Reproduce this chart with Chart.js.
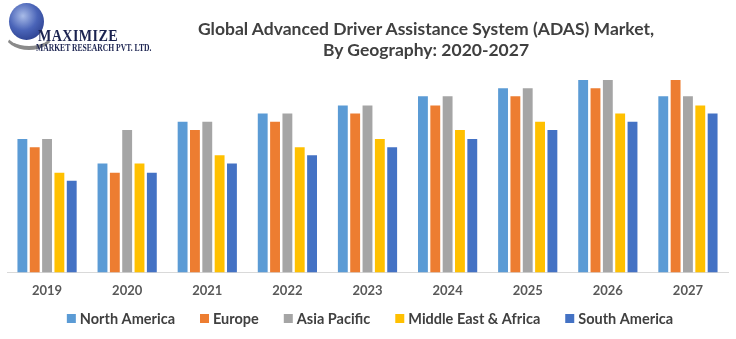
<!DOCTYPE html>
<html>
<head>
<meta charset="utf-8">
<script src="https://cdn.jsdelivr.net/npm/chart.js@4.4.1/dist/chart.umd.min.js"></script>
<style>
  html, body { margin: 0; padding: 0; background: #fff; }
  #wrap { position: relative; width: 736px; height: 339px; overflow: hidden; }
  #chart { position: absolute; left: 0; top: 0; }
  .title {
    position: absolute; left: 0; width: 852px; text-align: center;
    font: bold 17.5px Lato, sans-serif; color: #404040; white-space: nowrap;
  }
  .globe {
    position: absolute; left: 9px; top: 3px; width: 35px; height: 37px; border-radius: 50%;
    background: radial-gradient(circle at 40% 35%, #a9bce8 0%, #4a64b8 45%, #1e2f7a 100%);
  }
  .swoosh {
    position: absolute; left: 4px; top: 16px; width: 46px; height: 30px; border-radius: 50%;
    border-bottom: 4px solid #8a8a8a; border-left: 2px solid transparent; border-right: 2px solid transparent;
  }
  .brand {
    position: absolute; left: 38px; top: 26px; font: bold 17px "Liberation Serif", serif;
    color: #1b2350; transform: scaleX(0.83); transform-origin: left; letter-spacing: 0.5px;
  }
  .brand-sub {
    position: absolute; left: 36px; top: 42px; font: bold 10px "Liberation Serif", serif;
    color: #1b2350; transform: scaleX(0.76); transform-origin: left; white-space: nowrap;
  }
</style>
</head>
<body>
<div id="wrap">
  <canvas id="chart" width="736" height="339"></canvas>
  <div class="globe"></div>
  <div class="swoosh"></div>
  <div class="brand">MAXIMIZE</div>
  <div class="brand-sub">MARKET RESEARCH PVT. LTD.</div>
  <div class="title" style="top:18px">Global Advanced Driver Assistance System (ADAS) Market,</div>
  <div class="title" style="top:39px">By Geography: 2020-2027</div>
</div>
<script>
const years = ['2019', '2020', '2021', '2022', '2023', '2024', '2025', '2026', '2027'];

const northAmerica     = [13.1, 10.7, 14.8, 15.6, 16.4, 17.3, 18.1, 18.9, 17.3];
const europe           = [12.3,  9.8, 14.0, 14.8, 15.6, 16.4, 17.3, 18.1, 18.9];
const asiaPacific      = [13.1, 14.0, 14.8, 15.6, 16.4, 17.3, 18.1, 18.9, 17.3];
const middleEastAfrica = [ 9.8, 10.7, 11.5, 12.3, 13.1, 14.0, 14.8, 15.6, 16.4];
const southAmerica     = [ 9.0,  9.8, 10.7, 11.5, 12.3, 13.1, 14.0, 14.8, 15.6];

const series = [
  { label: 'North America', data: northAmerica, color: '#5B9BD5' },
  { label: 'Europe', data: europe, color: '#ED7D31' },
  { label: 'Asia Pacific', data: asiaPacific, color: '#A5A5A5' },
  { label: 'Middle East & Africa', data: middleEastAfrica, color: '#FFC000' },
  { label: 'South America', data: southAmerica, color: '#4472C4' }
];

// Legend row drawn by hand so the gap above it can be kept tight
const bottomLegend = {
  id: 'bottomLegend',
  afterDraw(chart) {
    const c = chart.ctx;
    const box = 9, textGap = 4, itemGap = 25, y = 319;
    c.save();
    c.font = 'bold 14.5px Lato';
    c.textBaseline = 'middle';
    const items = chart.data.datasets.map(ds => ({
      text: ds.label, color: ds.backgroundColor, w: c.measureText(ds.label).width
    }));
    const total = items.reduce((s, it) => s + box + textGap + it.w, 0) + itemGap * (items.length - 1);
    let x = (chart.width - total) / 2 + 2;
    items.forEach(it => {
      c.fillStyle = it.color;
      c.fillRect(x, y - 5, box, box);
      c.fillStyle = '#404040';
      c.fillText(it.text, x + box + textGap, y);
      x += box + textGap + it.w + itemGap;
    });
    c.restore();
  }
};

const ctx = document.getElementById('chart').getContext('2d');
new Chart(ctx, {
  type: 'bar',
  data: {
    labels: years,
    datasets: series.map(s => ({
      label: s.label,
      data: s.data,
      backgroundColor: s.color,
      borderWidth: 0,
      categoryPercentage: 0.77,
      barPercentage: 0.8
    }))
  },
  options: {
    responsive: false,
    animation: false,
    layout: { padding: { top: 80, left: 7, right: 8, bottom: 37 } },
    plugins: {
      title: { display: false },
      tooltip: { enabled: false },
      legend: { display: false }
    },
    scales: {
      x: {
        grid: { display: false },
        border: { color: '#D9D9D9', width: 1 },
        ticks: {
          color: '#595959',
          padding: 3,
          font: { family: 'Lato', size: 13, weight: 'bold' }
        }
      },
      y: {
        display: false,
        min: 0,
        max: 18.9
      }
    }
  },
  plugins: [bottomLegend]
});
</script>
</body>
</html>
